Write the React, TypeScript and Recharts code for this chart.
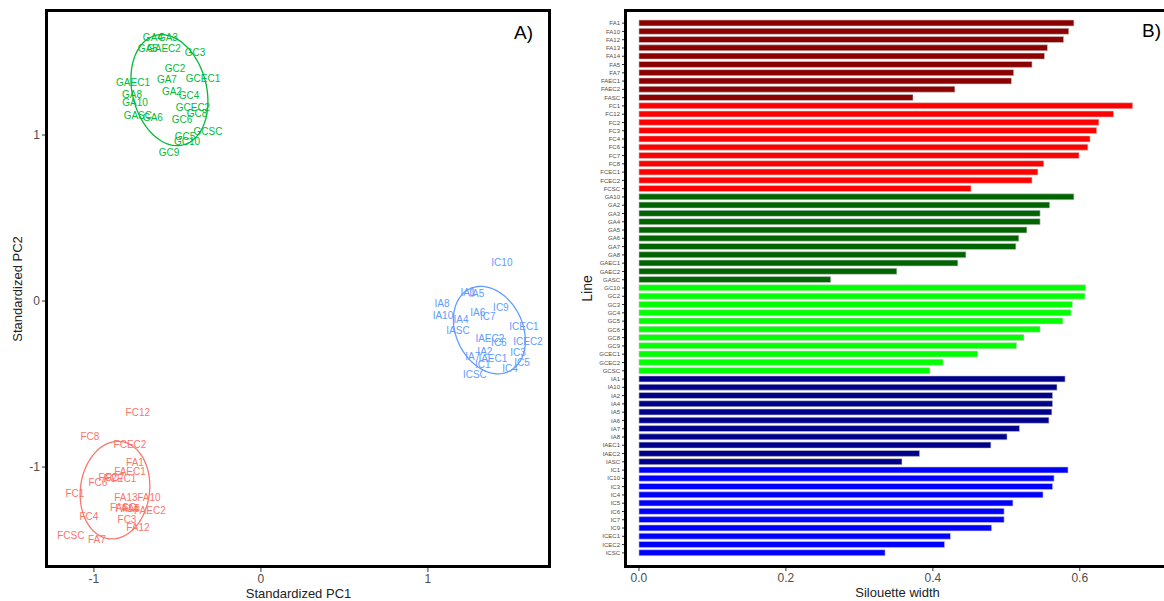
import { ScatterChart, Scatter, BarChart, Bar, Cell, XAxis, YAxis } from 'recharts';

// Panel A: PCA scores (label positions)
const greenPoints = [
  { name: 'GA4', x: -0.647, y: 1.59 },
  { name: 'GA3', x: -0.557, y: 1.59 },
  { name: 'GA5', x: -0.677, y: 1.524 },
  { name: 'GAEC2', x: -0.581, y: 1.524 },
  { name: 'GC3', x: -0.395, y: 1.5 },
  { name: 'GC2', x: -0.515, y: 1.398 },
  { name: 'GA7', x: -0.563, y: 1.337 },
  { name: 'GCEC1', x: -0.347, y: 1.343 },
  { name: 'GAEC1', x: -0.766, y: 1.319 },
  { name: 'GA8', x: -0.772, y: 1.247 },
  { name: 'GA2', x: -0.533, y: 1.265 },
  { name: 'GC4', x: -0.431, y: 1.241 },
  { name: 'GA10', x: -0.754, y: 1.193 },
  { name: 'GCEC2', x: -0.407, y: 1.163 },
  { name: 'GC8', x: -0.383, y: 1.127 },
  { name: 'GASC', x: -0.737, y: 1.12 },
  { name: 'GA6', x: -0.647, y: 1.108 },
  { name: 'GC6', x: -0.473, y: 1.096 },
  { name: 'GCSC', x: -0.317, y: 1.024 },
  { name: 'GC5', x: -0.455, y: 0.994 },
  { name: 'GC10', x: -0.443, y: 0.958 },
  { name: 'GC9', x: -0.551, y: 0.892 },
];

const bluePoints = [
  { name: 'IC10', x: 1.443, y: 0.235 },
  { name: 'IA1', x: 1.24, y: 0.054 },
  { name: 'IA5', x: 1.293, y: 0.048 },
  { name: 'IA8', x: 1.084, y: -0.012 },
  { name: 'IC9', x: 1.437, y: -0.036 },
  { name: 'IA10', x: 1.09, y: -0.09 },
  { name: 'IA6', x: 1.299, y: -0.072 },
  { name: 'IC7', x: 1.359, y: -0.096 },
  { name: 'IA4', x: 1.198, y: -0.114 },
  { name: 'ICEC1', x: 1.575, y: -0.151 },
  { name: 'IASC', x: 1.18, y: -0.175 },
  { name: 'IAEC2', x: 1.371, y: -0.223 },
  { name: 'IC6', x: 1.425, y: -0.247 },
  { name: 'ICEC2', x: 1.599, y: -0.241 },
  { name: 'IA2', x: 1.341, y: -0.301 },
  { name: 'IC3', x: 1.539, y: -0.307 },
  { name: 'IA7', x: 1.269, y: -0.337 },
  { name: 'IAEC1', x: 1.389, y: -0.349 },
  { name: 'IC5', x: 1.563, y: -0.373 },
  { name: 'IC1', x: 1.329, y: -0.38 },
  { name: 'IC4', x: 1.491, y: -0.404 },
  { name: 'ICSC', x: 1.281, y: -0.44 },
];

const redPoints = [
  { name: 'FC12', x: -0.737, y: -0.669 },
  { name: 'FC8', x: -1.024, y: -0.813 },
  { name: 'FCEC2', x: -0.784, y: -0.867 },
  { name: 'FA1', x: -0.754, y: -0.97 },
  { name: 'FAEC1', x: -0.784, y: -1.024 },
  { name: 'FC2', x: -0.916, y: -1.06 },
  { name: 'FC7', x: -0.874, y: -1.06 },
  { name: 'FCEC1', x: -0.844, y: -1.066 },
  { name: 'FC6', x: -0.976, y: -1.09 },
  { name: 'FC1', x: -1.114, y: -1.157 },
  { name: 'FA13', x: -0.808, y: -1.181 },
  { name: 'FA10', x: -0.671, y: -1.181 },
  { name: 'FASC', x: -0.826, y: -1.241 },
  { name: 'FA14', x: -0.802, y: -1.247 },
  { name: 'FA5', x: -0.778, y: -1.247 },
  { name: 'FAEC2', x: -0.665, y: -1.259 },
  { name: 'FC4', x: -1.03, y: -1.295 },
  { name: 'FC3', x: -0.802, y: -1.313 },
  { name: 'FA12', x: -0.737, y: -1.367 },
  { name: 'FCSC', x: -1.138, y: -1.41 },
  { name: 'FA7', x: -0.982, y: -1.434 },
];

// ellipses: centre, semi-axes, angle of major axis (deg)
const ellipses = [
  { color: '#00BA38', cx: -0.548, cy: 1.27, a: 0.34, b: 0.222, angle: 104 },
  { color: '#619CFF', cx: 1.368, cy: -0.175, a: 0.275, b: 0.2, angle: 115 },
  { color: '#F8766D', cx: -0.874, cy: -1.139, a: 0.295, b: 0.207, angle: 83 },
];

const pcTicks = [-1, 0, 1];

// Panel B: silhouette widths
const lines = [
  'FA1', 'FA10', 'FA12', 'FA13', 'FA14', 'FA5', 'FA7', 'FAEC1', 'FAEC2', 'FASC',
  'FC1', 'FC12', 'FC2', 'FC3', 'FC4', 'FC6', 'FC7', 'FC8', 'FCEC1', 'FCEC2', 'FCSC',
  'GA10', 'GA2', 'GA3', 'GA4', 'GA5', 'GA6', 'GA7', 'GA8', 'GAEC1', 'GAEC2', 'GASC',
  'GC10', 'GC2', 'GC3', 'GC4', 'GC5', 'GC6', 'GC8', 'GC9', 'GCEC1', 'GCEC2', 'GCSC',
  'IA1', 'IA10', 'IA2', 'IA4', 'IA5', 'IA6', 'IA7', 'IA8', 'IAEC1', 'IAEC2', 'IASC',
  'IC1', 'IC10', 'IC3', 'IC4', 'IC5', 'IC6', 'IC7', 'IC9', 'ICEC1', 'ICEC2', 'ICSC',
];

const silhouette = [
  0.592, 0.585, 0.578, 0.556, 0.552, 0.535, 0.51, 0.507, 0.43, 0.373,
  0.672, 0.646, 0.626, 0.623, 0.614, 0.611, 0.599, 0.551, 0.543, 0.535, 0.452,
  0.592, 0.559, 0.546, 0.546, 0.528, 0.517, 0.513, 0.445, 0.434, 0.351, 0.261,
  0.608, 0.607, 0.59, 0.588, 0.577, 0.546, 0.524, 0.514, 0.461, 0.414, 0.396,
  0.58, 0.569, 0.563, 0.563, 0.562, 0.558, 0.518, 0.501, 0.479, 0.382, 0.358,
  0.584, 0.565, 0.563, 0.55, 0.509, 0.497, 0.497, 0.48, 0.424, 0.416, 0.335,
];

const groupColors: Record<string, string> = {
  FA: '#8B0000',
  FC: '#FF0000',
  GA: '#006400',
  GC: '#00FF00',
  IA: '#00008B',
  IC: '#0000FF',
};

const widthTicks = [0, 0.2, 0.4, 0.6];

const barData = lines.map((name, i) => ({ name, value: silhouette[i] }));

const ellipsePath = (e: typeof ellipses[number]) => {
  const th = (e.angle * Math.PI) / 180;
  const pts = [];
  for (let i = 0; i <= 100; i++) {
    const t = (i / 100) * 2 * Math.PI;
    pts.push({
      x: e.cx + e.a * Math.cos(t) * Math.cos(th) - e.b * Math.sin(t) * Math.sin(th),
      y: e.cy + e.a * Math.cos(t) * Math.sin(th) + e.b * Math.sin(t) * Math.cos(th),
    });
  }
  return pts;
};

const font = '"Liberation Sans", Arial, sans-serif';
const tickStyle = { fill: '#4d4d4d', fontSize: 12, fontFamily: font };

const labelShape = (color: string) => (p: any) => (
  <text
    x={p.cx}
    y={p.cy}
    textAnchor="middle"
    dominantBaseline="central"
    fill={color}
    fontSize={10}
    fontFamily={font}
  >
    {p.payload.name}
  </text>
);

const frame = (left: number, top: number, width: number, height: number) => ({
  position: 'absolute' as const,
  left: left - 1.5,
  top: top - 1.5,
  width,
  height,
  border: '3px solid #000',
  pointerEvents: 'none' as const,
  boxSizing: 'border-box' as const,
});

export default function App() {
  return (
    <div
      style={{
        position: 'absolute',
        left: 0,
        top: 0,
        width: 1164,
        height: 601,
        overflow: 'hidden',
        background: '#fff',
        fontFamily: font,
      }}
    >
      <div style={{ position: 'absolute', left: 0, top: 0 }}>
        <ScatterChart width={560} height={601} margin={{ top: 10, right: 9, bottom: 3, left: 16 }}>
          <XAxis
            type="number"
            dataKey="x"
            domain={[-1.287, 1.737]}
            ticks={pcTicks}
            allowDataOverflow
            axisLine={false}
            tickLine={{ stroke: '#333' }}
            tickSize={4}
            tickMargin={2}
            tick={tickStyle}
            height={30}
            label={{ value: 'Standardized PC1', position: 'insideBottom', offset: 0, fill: '#222', fontSize: 13 }}
          />
          <YAxis
            type="number"
            dataKey="y"
            domain={[-1.608, 1.753]}
            ticks={pcTicks}
            allowDataOverflow
            axisLine={false}
            tickLine={{ stroke: '#333' }}
            tickSize={4}
            tickMargin={2}
            tick={tickStyle}
            width={30}
            label={{ value: 'Standardized PC2', angle: -90, position: 'center', dx: -14, fill: '#222', fontSize: 13 }}
          />
          {ellipses.map((e, i) => (
            <Scatter
              key={'e' + i}
              data={ellipsePath(e)}
              line={{ stroke: e.color, strokeWidth: 1.3 }}
              shape={() => <g />}
              isAnimationActive={false}
            />
          ))}
          <Scatter data={greenPoints} shape={labelShape('#00BA38')} isAnimationActive={false} />
          <Scatter data={bluePoints} shape={labelShape('#619CFF')} isAnimationActive={false} />
          <Scatter data={redPoints} shape={labelShape('#F8766D')} isAnimationActive={false} />
        </ScatterChart>
      </div>
      <div style={frame(46, 10, 506, 559)} />
      <div style={{ position: 'absolute', left: 514, top: 22, fontSize: 19, color: '#000' }}>A)</div>

      <div style={{ position: 'absolute', left: 560, top: 0 }}>
        <BarChart
          width={640}
          height={601}
          data={barData}
          layout="vertical"
          margin={{ top: 10, right: 10, bottom: 4, left: 20 }}
          barCategoryGap={1}
        >
          <XAxis
            type="number"
            dataKey="value"
            domain={[-0.019, 0.75]}
            ticks={widthTicks}
            allowDataOverflow
            tickFormatter={(v: number) => v.toFixed(1)}
            axisLine={false}
            tickLine={{ stroke: '#333' }}
            tickSize={4}
            tickMargin={2}
            tick={tickStyle}
            height={30}
            label={{ value: 'Silouette width', position: 'insideBottom', offset: 0, fill: '#222', fontSize: 13, dx: -10 }}
          />
          <YAxis
            type="category"
            dataKey="name"
            interval={0}
            axisLine={false}
            tickLine={{ stroke: '#333' }}
            tickSize={3}
            tickMargin={2}
            tick={{ fill: '#4d4d4d', fontSize: 6, fontFamily: font }}
            width={45}
            padding={{ top: 9, bottom: 10 }}
            label={{ value: 'Line', angle: -90, position: 'center', dx: -15, fill: '#222', fontSize: 14 }}
          />
          <Bar dataKey="value" stroke="#cccccc" strokeWidth={0.6} isAnimationActive={false}>
            {barData.map((d) => (
              <Cell key={d.name} fill={groupColors[d.name.slice(0, 2)]} />
            ))}
          </Bar>
        </BarChart>
      </div>
      <div style={frame(625, 10, 600, 559)} />
      <div style={{ position: 'absolute', left: 1142, top: 20, fontSize: 19, color: '#000' }}>B)</div>
    </div>
  );
}
